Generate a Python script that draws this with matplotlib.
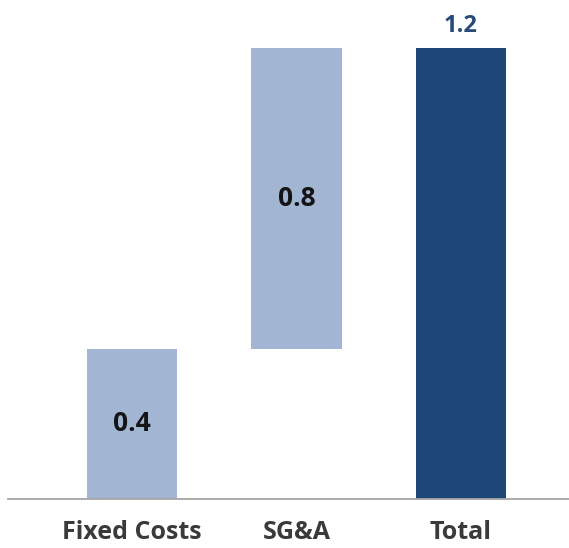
import matplotlib.pyplot as plt

categories = ["Fixed Costs", "SG&A", "Total"]
values = [0.4, 0.8, 1.2]
bottoms = [0.0, 0.4, 0.0]
value_labels = ["0.4", "0.8", "1.2"]

LIGHT = "#a2b6d4"
DARK = "#1f4678"

plt.rcParams["font.family"] = ["Open Sans", "DejaVu Sans"]

fig = plt.figure(figsize=(5.69, 5.48), dpi=100)
ax = fig.add_axes([8 / 569, 49 / 548, 1 - 8 / 569, 1 - 49 / 548])

x = list(range(len(categories)))
colors = [LIGHT, LIGHT, DARK]
ax.bar(x, values, bottom=bottoms, width=0.55, color=colors, zorder=2)

# labels inside the floating bars, total label on top
for i, (v, b, lab) in enumerate(zip(values, bottoms, value_labels)):
    if i < 2:
        ax.text(i, b + v / 2, lab, ha="center", va="center",
                fontsize=19, fontweight="bold", color="#141414")
    else:
        ax.text(i, b + v + 0.06, lab, ha="center", va="center",
                fontsize=17, fontweight="bold", color="#2a4a7a")

ax.set_xlim(-0.754, 2.657)
ax.set_ylim(0, 1.328)
ax.set_xticks(x)
ax.set_xticklabels(categories, fontsize=18, fontweight="bold", color="#3a3a3a")
ax.tick_params(axis="x", length=0, pad=15)
ax.set_yticks([])
for side in ["top", "right", "left"]:
    ax.spines[side].set_visible(False)
ax.spines["bottom"].set_color("#a6a6a6")
ax.spines["bottom"].set_linewidth(1.3)

fig.savefig("out.png", dpi=100)
